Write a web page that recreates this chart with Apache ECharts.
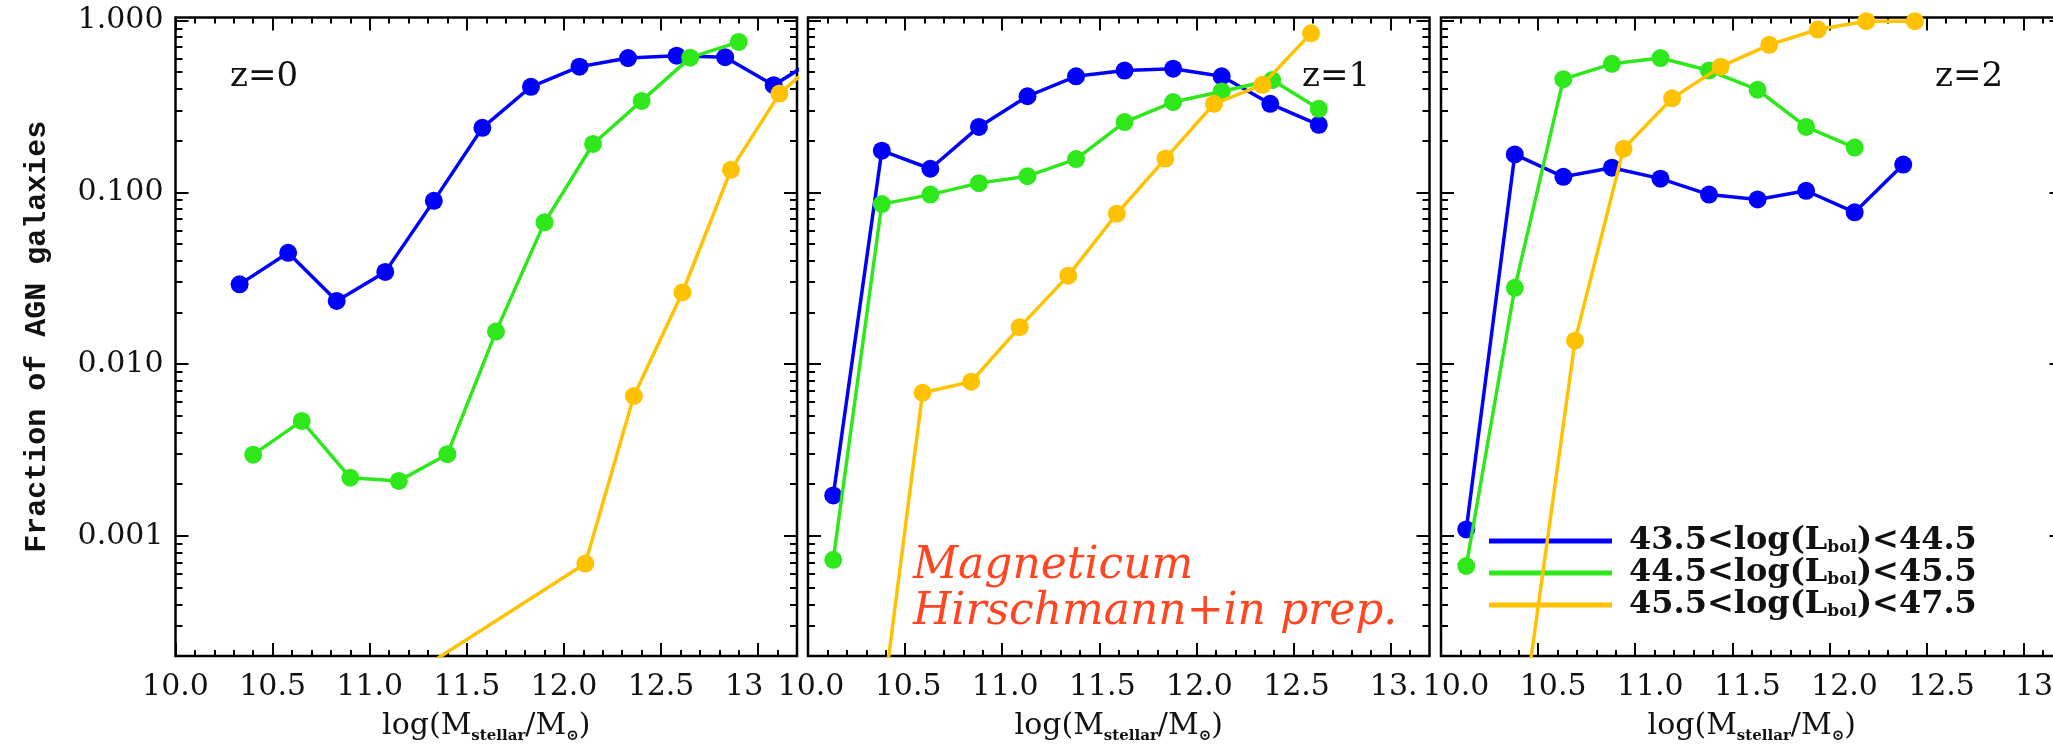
<!DOCTYPE html>
<html>
<head>
<meta charset="utf-8">
<script src="https://cdn.jsdelivr.net/npm/echarts@6/dist/echarts.min.js"></script>
<style>
  html, body { margin: 0; padding: 0; background: #fff; }
  #chart { width: 2053px; height: 749px; }
</style>
</head>
<body>
<div id="chart"></div>
<script>
// ---- data: fraction of AGN galaxies vs stellar mass, per redshift and L_bol bin ----
const LUM_BINS = ['43.5|44.5', '44.5|45.5', '45.5|47.5'];
const REDSHIFT_LABELS = ['z=0', 'z=1', 'z=2'];

// z = 0
const z0_lowX  = [10.33, 10.58, 10.83, 11.08, 11.33, 11.58, 11.83, 12.08, 12.33, 12.58, 12.83, 13.08, 13.33];
const z0_lowY  = [0.0291, 0.0444, 0.0233, 0.0344, 0.0891, 0.237, 0.411, 0.538, 0.604, 0.623, 0.611, 0.42, 0.63];
const z0_midX  = [10.40, 10.65, 10.90, 11.15, 11.40, 11.65, 11.90, 12.15, 12.40, 12.65, 12.90];
const z0_midY  = [0.00297, 0.00467, 0.00218, 0.00209, 0.00299, 0.01545, 0.0668, 0.191, 0.340, 0.607, 0.750];
const z0_highX = [11.11, 12.11, 12.36, 12.61, 12.86, 13.11, 13.36];
const z0_highY = [0.00013, 0.00069, 0.00652, 0.0261, 0.135, 0.375, 0.66];

// z = 1
const z1_lowX  = [10.13, 10.38, 10.63, 10.88, 11.13, 11.38, 11.63, 11.88, 12.13, 12.38, 12.63];
const z1_lowY  = [0.00172, 0.1745, 0.137, 0.240, 0.362, 0.473, 0.511, 0.524, 0.473, 0.327, 0.247];
const z1_midX  = [10.13, 10.38, 10.63, 10.88, 11.13, 11.38, 11.63, 11.88, 12.13, 12.39, 12.63];
const z1_midY  = [0.000726, 0.0853, 0.0969, 0.113, 0.124, 0.156, 0.256, 0.335, 0.386, 0.450, 0.306];
const z1_highX = [10.34, 10.59, 10.84, 11.09, 11.34, 11.59, 11.84, 12.09, 12.34, 12.59];
const z1_highY = [0.000043, 0.00681, 0.00789, 0.0164, 0.0327, 0.0750, 0.157, 0.327, 0.422, 0.841];

// z = 2
const z2_lowX  = [10.13, 10.38, 10.63, 10.88, 11.13, 11.38, 11.63, 11.88, 12.13, 12.38];
const z2_lowY  = [0.00109, 0.166, 0.123, 0.139, 0.120, 0.0969, 0.0908, 0.102, 0.0764, 0.145];
const z2_midX  = [10.13, 10.38, 10.63, 10.88, 11.13, 11.38, 11.63, 11.88, 12.13];
const z2_midY  = [0.000668, 0.0278, 0.455, 0.559, 0.604, 0.511, 0.395, 0.240, 0.182];
const z2_highX = [10.44, 10.69, 10.94, 11.19, 11.44, 11.69, 11.94, 12.19, 12.44];
const z2_highY = [0.000125, 0.01368, 0.179, 0.352, 0.538, 0.721, 0.885, 0.99, 0.99];

// axis ticks and labels
const X_MAJOR = [10.0, 10.5, 11.0, 11.5, 12.0, 12.5, 13.0];
const X_TICK_LABELS_Z0 = ['10.0', '10.5', '11.0', '11.5', '12.0', '12.5', '13'];
const X_TICK_LABELS = ['10.0', '10.5', '11.0', '11.5', '12.0', '12.5', '13.'];
const Y_MAJOR = [0.001, 0.01, 0.1, 1];
const Y_TICK_LABELS = ['0.001', '0.010', '0.100', '1.000'];

const PANELS = [
  [[z0_lowX, z0_lowY], [z0_midX, z0_midY], [z0_highX, z0_highY]],
  [[z1_lowX, z1_lowY], [z1_midX, z1_midY], [z1_highX, z1_highY]],
  [[z2_lowX, z2_lowY], [z2_midX, z2_midY], [z2_highX, z2_highY]]
];

// ---- styling / layout ----
const COLORS = ['#0000ff', '#2ee81c', '#ffc200'];
const X_MIN = 10.0, X_MAX = 13.2;
const Y_MIN = 0.0002, Y_MAX = 1.04;
const GRID_LEFT = [175.5, 808, 1441];
const GRID_TOP = 17.5, GRID_W = 621.5, GRID_H = 638.5;
const SERIF = '"DejaVu Serif", serif';

const X_MINOR = [];
for (let i = 101; i < 132; i++) { if (i % 5 !== 0) X_MINOR.push(i / 10); }
const Y_MINOR = [];
[0.0001, 0.001, 0.01, 0.1].forEach(d => { for (let k = 2; k <= 9; k++) Y_MINOR.push(+(d * k).toPrecision(2)); });

const tickLine = { color: '#000', width: 2 };

function xAxesFor(gi) {
  const base = {
    gridIndex: gi, type: 'value', min: X_MIN, max: X_MAX,
    splitLine: { show: false }, axisLine: { show: false }
  };
  const labels = gi === 0 ? X_TICK_LABELS_Z0 : X_TICK_LABELS;
  const pad = gi === 2 ? [0, 0, 0, 30] : (gi === 1 ? [0, 0, 0, 6] : 0);
  const main = Object.assign({}, base, {
    position: 'bottom',
    axisTick: { show: true, inside: true, length: 13, customValues: X_MAJOR, lineStyle: tickLine },
    axisLabel: {
      show: true, customValues: X_MAJOR, margin: 16, padding: pad,
      fontFamily: SERIF, fontSize: 30, color: '#111',
      formatter: v => {
        const idx = X_MAJOR.findIndex(t => Math.abs(t - v) < 1e-6);
        const s = labels[idx];
        return (gi === 0 && idx === X_MAJOR.length - 1) ? '{l|' + s + '}' : s;
      },
      rich: { l: { fontFamily: SERIF, fontSize: 30, color: '#111', padding: [0, 28, 0, 0] } }
    },
    name: '{n|log(M}{s|stellar}{n|/M}{s|\u2299}{n|)}',
    nameLocation: 'middle', nameGap: 52,
    nameTextStyle: {
      rich: {
        n: { fontFamily: SERIF, fontSize: 30, color: '#111', lineHeight: 36, verticalAlign: 'middle' },
        s: { fontFamily: SERIF, fontSize: 15, fontWeight: 'bold', color: '#111', lineHeight: 12, verticalAlign: 'bottom' }
      }
    }
  });
  const minor = Object.assign({}, base, {
    position: 'bottom',
    axisTick: { show: true, inside: true, length: 6, customValues: X_MINOR, lineStyle: tickLine },
    axisLabel: { show: false }
  });
  const topMain = Object.assign({}, base, {
    position: 'top',
    axisTick: { show: true, inside: true, length: 13, customValues: X_MAJOR, lineStyle: tickLine },
    axisLabel: { show: false }
  });
  const topMinor = Object.assign({}, base, {
    position: 'top',
    axisTick: { show: true, inside: true, length: 6, customValues: X_MINOR, lineStyle: tickLine },
    axisLabel: { show: false }
  });
  return [main, minor, topMain, topMinor];
}

function yAxesFor(gi) {
  const base = {
    gridIndex: gi, type: 'log', logBase: 10, min: Y_MIN, max: Y_MAX,
    splitLine: { show: false }, axisLine: { show: false }
  };
  const main = Object.assign({}, base, {
    position: 'left',
    axisTick: { show: true, inside: true, length: 13, customValues: Y_MAJOR, lineStyle: tickLine },
    axisLabel: gi === 0 ? {
      show: true, customValues: Y_MAJOR, margin: 12,
      fontFamily: SERIF, fontSize: 30, color: '#111',
      formatter: v => Y_TICK_LABELS[Y_MAJOR.findIndex(t => Math.abs(Math.log10(t) - Math.log10(v)) < 1e-6)]
    } : { show: false }
  });
  if (gi === 0) {
    Object.assign(main, {
      name: 'Fraction of AGN galaxies', nameLocation: 'middle', nameRotate: 90, nameGap: 123,
      nameTextStyle: { fontFamily: '"Liberation Mono", monospace', fontWeight: 'bold', fontSize: 30, color: '#111' }
    });
  }
  const minor = Object.assign({}, base, {
    position: 'left',
    axisTick: { show: true, inside: true, length: 7, customValues: Y_MINOR, lineStyle: tickLine },
    axisLabel: { show: false }
  });
  const rMain = Object.assign({}, base, {
    position: 'right',
    axisTick: { show: true, inside: true, length: 13, customValues: Y_MAJOR, lineStyle: tickLine },
    axisLabel: { show: false }
  });
  const rMinor = Object.assign({}, base, {
    position: 'right',
    axisTick: { show: true, inside: true, length: 7, customValues: Y_MINOR, lineStyle: tickLine },
    axisLabel: { show: false }
  });
  return [main, minor, rMain, rMinor];
}

const binName = b => { const p = b.split('|'); return p[0] + '<log(Lbol)<' + p[1]; };

const grids = [], xAxes = [], yAxes = [], series = [];
PANELS.forEach((panel, gi) => {
  grids.push({
    left: GRID_LEFT[gi], top: GRID_TOP, width: GRID_W, height: GRID_H,
    show: true, borderColor: '#000', borderWidth: 2.5, backgroundColor: 'transparent',
    containLabel: false, outerBoundsMode: 'none'
  });
  xAxes.push(...xAxesFor(gi));
  yAxes.push(...yAxesFor(gi));
  panel.forEach(([xs, ys], si) => {
    series.push({
      type: 'line', name: binName(LUM_BINS[si]),
      xAxisIndex: gi * 4, yAxisIndex: gi * 4,
      data: xs.map((x, i) => [x, ys[i]]),
      color: COLORS[si],
      lineStyle: { color: COLORS[si], width: 3.5 },
      itemStyle: { color: COLORS[si] },
      symbol: 'circle', symbolSize: 18, showSymbol: true,
      clip: true, z: 2 + si, animation: false
    });
  });
});

const legendRich = {
  t: { fontFamily: SERIF, fontWeight: 'bold', fontSize: 32, color: '#111', lineHeight: 30, verticalAlign: 'middle' },
  s: { fontFamily: SERIF, fontWeight: 'bold', fontSize: 17, color: '#111', lineHeight: 12, verticalAlign: 'bottom' }
};

const option = {
  animation: false,
  backgroundColor: '#fff',
  grid: grids,
  xAxis: xAxes,
  yAxis: yAxes,
  series: series,
  legend: {
    data: LUM_BINS.map(b => ({ name: binName(b), icon: 'rect' })),
    orient: 'vertical', left: 1489, top: 525, padding: 0,
    itemWidth: 123, itemHeight: 5, itemGap: 0,
    selectedMode: false,
    formatter: name => {
      const lo = name.split('<')[0], hi = name.split('<')[2];
      return '{t|' + lo + '<log(L}{s|bol}{t|)<' + hi + '}';
    },
    textStyle: { padding: [0, 0, 0, 12], rich: legendRich }
  },
  graphic: [
    { type: 'text', x: 230, y: 77, style: { text: REDSHIFT_LABELS[0], fontFamily: SERIF, fontSize: 34, fill: '#111', align: 'left', verticalAlign: 'middle' } },
    { type: 'text', x: 1302, y: 77, style: { text: REDSHIFT_LABELS[1], fontFamily: SERIF, fontSize: 34, fill: '#111', align: 'left', verticalAlign: 'middle' } },
    { type: 'text', x: 1935, y: 77, style: { text: REDSHIFT_LABELS[2], fontFamily: SERIF, fontSize: 34, fill: '#111', align: 'left', verticalAlign: 'middle' } },
    { type: 'text', x: 913, y: 543.5, z: 20, style: {
        text: 'Magneticum\nHirschmann+in prep.', fontFamily: SERIF, fontStyle: 'italic', fontSize: 44,
        lineHeight: 46, fill: '#ff4521', align: 'left', verticalAlign: 'top' } }
  ]
};

const chart = echarts.init(document.getElementById('chart'), null, { renderer: 'canvas' });
chart.setOption(option);
</script>
</body>
</html>
